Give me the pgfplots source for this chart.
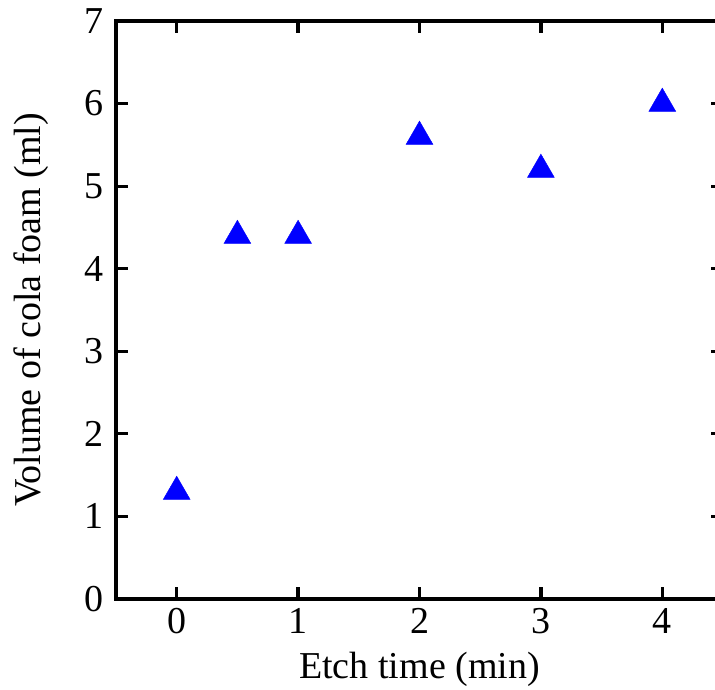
\documentclass[border=0pt]{standalone}
\usepackage{fontspec}
\setmainfont{Liberation Serif}
\usepackage{pgfplots}
\pgfplotsset{compat=1.18}

\begin{document}
\begin{tikzpicture}
\begin{axis}[
  at={(0,0)}, anchor=south west,
  scale only axis,
  width=607pt, height=578pt,
  xmin=-0.5, xmax=4.5,
  ymin=0, ymax=7,
  xtick={0,1,2,3,4},
  ytick={0,1,2,3,4,5,6,7},
  tick align=inside,
  major tick length=12pt,
  axis line style={line width=3.2pt},
  every tick/.style={line width=3.2pt, black},
  /pgf/number format/assume math mode=true,
  tick label style={font=\fontsize{38}{46}\selectfont},
  label style={font=\fontsize{38}{46}\selectfont},
  xticklabel style={yshift=-6pt},
  yticklabel style={xshift=-9pt},
  xlabel={Etch time (min)},
  ylabel={Volume of cola foam (ml)},
  xlabel style={yshift=-11pt},
  ylabel style={yshift=29pt},
  clip=false,
]
\addplot[only marks, mark=triangle*, mark size=15.5pt, color=blue, mark options={fill=blue, draw=blue}] coordinates {
  (0,1.3) (0.5,4.4) (1,4.4) (2,5.6) (3,5.2) (4,6)
};
\end{axis}
\pgfresetboundingbox
\path[use as bounding box] (-116pt,-90pt) rectangle (599pt,599pt);
\end{tikzpicture}
\end{document}
